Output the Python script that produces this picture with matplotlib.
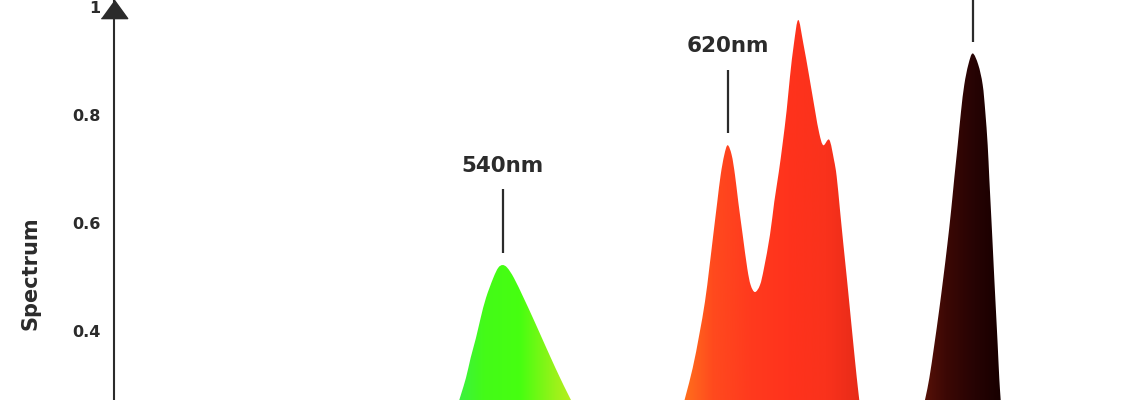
import matplotlib
matplotlib.use("Agg")
import matplotlib.pyplot as plt
import numpy as np
from matplotlib.colors import LinearSegmentedColormap
from matplotlib.path import Path
from matplotlib.patches import PathPatch

# spectrum peaks (wavelength in nm, relative intensity)
green_nm = [520.2, 524.64, 526.79, 528.46, 530.36, 532.04, 533.93, 536.54, 538.32, 539.89,
            541.54, 543.93, 547.4, 550.7, 553.9, 557.1, 560.4, 563.9, 571.3]
green_val = [0.20, 0.276, 0.313, 0.350, 0.387, 0.424, 0.461, 0.498, 0.517, 0.522,
             0.517, 0.498, 0.461, 0.424, 0.387, 0.350, 0.313, 0.276, 0.20]

red_nm = [601.3, 605.0, 607.75, 610.11, 612.14, 613.68, 615.11, 616.54, 617.75, 619.04,
          620.25, 621.68, 622.86, 624.04, 625.61, 627.25, 628.46, 630.0, 631.79, 633.21,
          635.36, 636.89, 638.5, 639.9, 641.32, 642.5, 643.93, 645.46, 647.25, 649.39,
          651.43, 652.96, 654.39, 656.54, 658.21, 659.18, 660.36, 661.54, 662.75, 663.93,
          665.11, 666.32, 667.25, 668.8]
red_val = [0.20, 0.275, 0.331, 0.393, 0.454, 0.516, 0.578, 0.639, 0.689, 0.726,
           0.744, 0.726, 0.689, 0.639, 0.578, 0.516, 0.485, 0.472, 0.485, 0.516,
           0.578, 0.639, 0.694, 0.748, 0.809, 0.871, 0.933, 0.976, 0.933, 0.871,
           0.809, 0.766, 0.744, 0.754, 0.717, 0.686, 0.624, 0.562, 0.501, 0.439,
           0.377, 0.315, 0.272, 0.20]

farred_nm = [687.9, 690.71, 692.25, 694.04, 695.71, 697.25, 698.68, 700.0, 701.18, 702.39,
             703.57, 704.75, 706.18, 707.75, 709.75, 711.32, 712.25, 713.11, 713.68, 714.29,
             714.89, 715.46, 716.07, 716.68, 717.25, 717.75, 718.65]
farred_val = [0.20, 0.272, 0.312, 0.374, 0.436, 0.498, 0.559, 0.621, 0.683, 0.744,
              0.806, 0.856, 0.893, 0.914, 0.893, 0.856, 0.806, 0.744, 0.683, 0.621,
              0.559, 0.498, 0.436, 0.374, 0.312, 0.272, 0.20]

peak_nm = [540.0, 620.2, 707.7]
peak_val = [0.522, 0.744, 0.914]
peak_text = ["540nm", "620nm", None]

y_ticks = [0.4, 0.6, 0.8, 1.0]
y_tick_labels = ["0.4", "0.6", "0.8", "1"]

INK = "#2b2b2b"

fig = plt.figure(figsize=(11.4, 4), dpi=100)
fig.patch.set_facecolor("white")
ax = fig.add_axes([114 / 1140, 0, 1026 / 1140, 1])
ax.set_xlim(401.1, 767.5)
ax.set_ylim(0.272, 1.013)


def smooth_outline(nm, val):
    # closed outline through the read points, drawn as Catmull-Rom bezier segments
    pts = np.column_stack([nm, val])
    ext = np.vstack([pts[0], pts, pts[-1]])
    verts = [(nm[0], 0), tuple(pts[0])]
    codes = [Path.MOVETO, Path.LINETO]
    for i in range(1, len(ext) - 2):
        p0, p1, p2, p3 = ext[i - 1], ext[i], ext[i + 1], ext[i + 2]
        verts += [tuple(p1 + (p2 - p0) / 6), tuple(p2 - (p3 - p1) / 6), tuple(p2)]
        codes += [Path.CURVE4] * 3
    verts += [(nm[-1], 0), (nm[0], 0)]
    codes += [Path.LINETO, Path.CLOSEPOLY]
    return Path(verts, codes)


def gradient_peak(nm, val, colors):
    patch = PathPatch(smooth_outline(nm, val), facecolor="none", edgecolor="none",
                      transform=ax.transData)
    ax.add_patch(patch)
    cmap = LinearSegmentedColormap.from_list("peak", colors)
    grad = np.linspace(0, 1, 256).reshape(1, -1)
    img = ax.imshow(grad, cmap=cmap, aspect="auto", interpolation="bicubic",
                    extent=[min(nm), max(nm), 0, 1.1], zorder=2)
    img.set_clip_path(patch)


gradient_peak(green_nm, green_val, ["#38ee50", "#44fb18", "#46ff10", "#9af21a", "#dcea22"])
gradient_peak(red_nm, red_val, ["#ff7a1c", "#ff4a1e", "#ff3a1e", "#ff331c", "#fa321c", "#e42a18"])
gradient_peak(farred_nm, farred_val, ["#601408", "#3c0805", "#260303", "#160000"])

# peak markers
for x, v, t in zip(peak_nm, peak_val, peak_text):
    ax.plot([x, x], [v + 0.022, v + 0.14], color=INK, lw=1.6,
            solid_capstyle="butt", clip_on=False, zorder=3)
    if t:
        ax.text(x, v + 0.184, t, ha="center", va="center", fontsize=15.5,
                fontweight="bold", color=INK)

for side in ("top", "right", "bottom"):
    ax.spines[side].set_visible(False)
ax.spines["left"].set_color(INK)
ax.spines["left"].set_linewidth(1.5)
ax.set_xticks([])
ax.set_yticks(y_ticks)
ax.set_yticklabels(y_tick_labels, fontsize=11.5, fontweight="bold", color=INK)
ax.tick_params(axis="y", length=0, pad=9.5)

# arrow head on top of the y axis
ax.plot(401.1, 0.996, marker=[(-1, -0.69), (1, -0.69), (0, 0.69)], ms=19,
        color=INK, clip_on=False, zorder=4)

fig.text(31 / 1140, 0.3175, "Spectrum", rotation=90, ha="center", va="center",
         fontsize=15, fontweight="bold", color=INK)

fig.savefig("out.png", dpi=100)
